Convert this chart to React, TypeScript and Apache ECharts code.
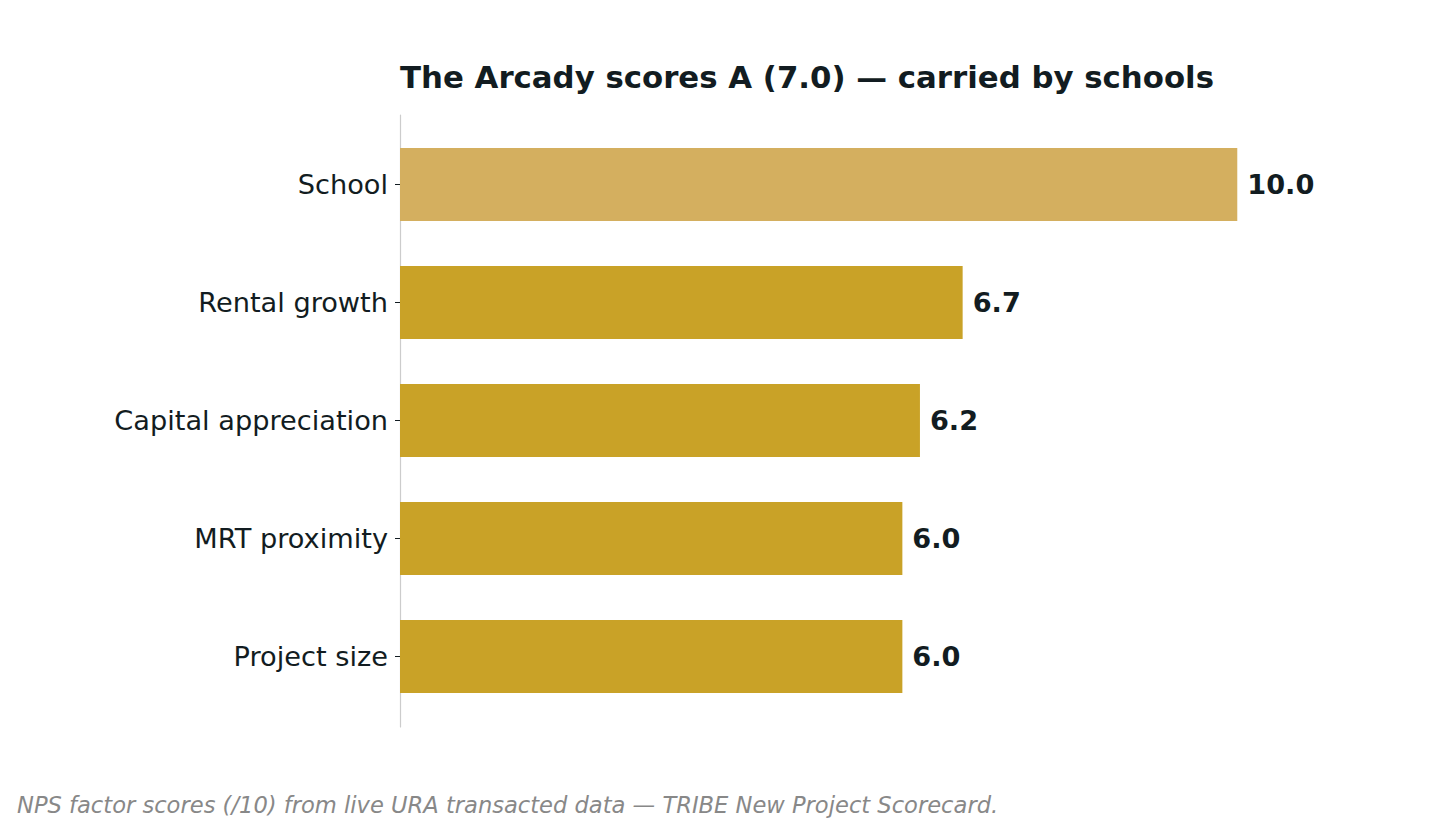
import React, { useEffect, useRef } from "react";
import * as echarts from "echarts";

const categories = ["School", "Rental growth", "Capital appreciation", "MRT proximity", "Project size"];
const scores = [10.0, 6.72, 6.21, 6.0, 6.0];
const valueLabels = ["10.0", "6.7", "6.2", "6.0", "6.0"];
const highlightIndex = 0;
const titleText = "The Arcady scores A (7.0) — carried by schools";
const footerText = "NPS factor scores (/10) from live URA transacted data — TRIBE New Project Scorecard.";

const FONT = "DejaVu Sans";
const DARK = "#121c21";

export default function App() {
  const ref = useRef<HTMLDivElement>(null);
  useEffect(() => {
    if (!ref.current) return;
    const chart = echarts.init(ref.current, undefined, { renderer: "svg" });
    chart.setOption({
      animation: false,
      backgroundColor: "#ffffff",
      textStyle: { fontFamily: FONT },
      title: [
        {
          text: titleText,
          left: 395,
          top: 56,
          textStyle: { fontFamily: FONT, fontSize: 30.8, fontWeight: "bold", color: DARK },
        },
        {
          text: footerText,
          left: 12,
          top: 788,
          textStyle: { fontFamily: FONT, fontSize: 22.6, fontStyle: "italic", fontWeight: "normal", color: "#888888" },
        },
      ],
      grid: [
        { left: 400, top: 125.5, width: 921, height: 590 },
        { left: 400, top: 115, width: 921, height: 612 },
      ],
      xAxis: [
        { type: "value", gridIndex: 0, min: 0, max: 11, show: false },
        { type: "value", gridIndex: 1, min: 0, max: 11, show: false },
      ],
      yAxis: [
        {
          type: "category",
          gridIndex: 0,
          data: categories,
          inverse: true,
          axisLine: { show: false },
          axisTick: { show: true, alignWithLabel: true, length: 5, lineStyle: { color: DARK, width: 1 } },
          axisLabel: { fontFamily: FONT, fontSize: 27.2, color: DARK, margin: 12 },
          splitLine: { show: false },
        },
        {
          type: "value",
          gridIndex: 1,
          min: 0,
          max: 1,
          axisLine: { show: true, lineStyle: { color: "#cccccc", width: 1.2 } },
          axisTick: { show: false },
          axisLabel: { show: false },
          splitLine: { show: false },
        },
      ],
      series: [
        {
          type: "bar",
          xAxisIndex: 0,
          yAxisIndex: 0,
          barWidth: "62%",
          data: scores.map((v, i) => ({
            value: v,
            itemStyle: { color: i === highlightIndex ? "#d4af5f" : "#c9a227" },
          })),
          label: {
            show: true,
            position: "right",
            distance: 10,
            formatter: (p: any) => valueLabels[p.dataIndex],
            fontFamily: FONT,
            fontSize: 27.2,
            fontWeight: "bold",
            color: DARK,
          },
        },
      ],
    });
    return () => chart.dispose();
  }, []);
  return (
    <div
      ref={ref}
      style={{ position: "fixed", left: 0, top: 0, width: 1430, height: 825 }}
    />
  );
}
